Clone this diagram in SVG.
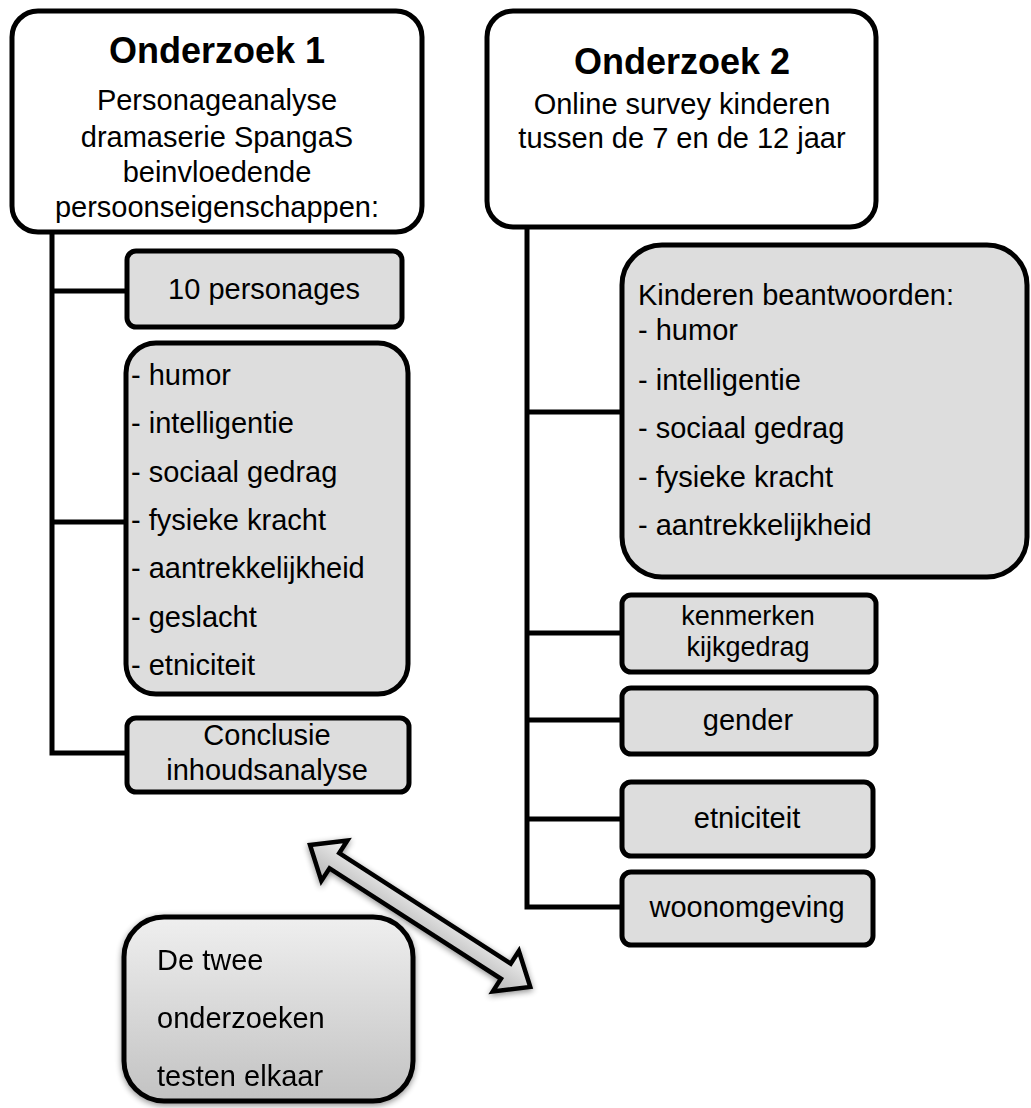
<svg xmlns="http://www.w3.org/2000/svg" width="1031" height="1108" viewBox="0 0 1031 1108">
<style>
  .box { stroke: #000; stroke-width: 5; }
  .white { fill: #ffffff; }
  .gray { fill: #dddddd; }
  .t { font-family: "Liberation Sans", Arial, sans-serif; font-size: 29px; fill: #000; }
  .c { text-anchor: middle; }
  .title { font-family: "Liberation Sans", Arial, sans-serif; font-size: 36px; font-weight: bold; fill: #000; text-anchor: middle; }
  .line { fill: none; stroke: #000; stroke-width: 5; }
</style>
<defs>
  <linearGradient id="gBox" x1="0" y1="0" x2="0" y2="1">
    <stop offset="0" stop-color="#efefef"/>
    <stop offset="1" stop-color="#c2c2c2"/>
  </linearGradient>
  <linearGradient id="gArrow" x1="0" y1="0" x2="0" y2="1">
    <stop offset="0" stop-color="#f4f4f4"/>
    <stop offset="1" stop-color="#b4b4b4"/>
  </linearGradient>
  <filter id="shadow" x="-20%" y="-20%" width="140%" height="140%">
    <feGaussianBlur in="SourceAlpha" stdDeviation="3"/>
    <feOffset dx="0" dy="2" result="b"/>
    <feComponentTransfer><feFuncA type="linear" slope="0.45"/></feComponentTransfer>
    <feMerge><feMergeNode/><feMergeNode in="SourceGraphic"/></feMerge>
  </filter>
</defs>
<rect width="1031" height="1108" fill="#ffffff"/>

<g id="connectors">
  <path class="line" d="M52,232 V753 H127"/>
  <path class="line" d="M52,291 H127"/>
  <path class="line" d="M52,522 H127"/>
  <path class="line" d="M527,227 V907 H621"/>
  <path class="line" d="M527,412 H621"/>
  <path class="line" d="M527,633 H621"/>
  <path class="line" d="M527,720 H621"/>
  <path class="line" d="M527,819 H621"/>
</g>

<g id="onderzoek1">
  <rect class="box white" x="12" y="11" width="410" height="221" rx="26"/>
  <text class="title" x="217" y="63">Onderzoek 1</text>
  <text class="t c" x="217" y="110">Personageanalyse</text>
  <text class="t c" x="217" y="147">dramaserie SpangaS</text>
  <text class="t c" x="217" y="182">beinvloedende</text>
  <text class="t c" x="217" y="217">persoonseigenschappen:</text>
</g>

<g id="onderzoek2">
  <rect class="box white" x="487" y="11" width="389" height="216" rx="26"/>
  <text class="title" x="682" y="74">Onderzoek 2</text>
  <text class="t c" x="682" y="114">Online survey kinderen</text>
  <text class="t c" x="682" y="148">tussen de 7 en de 12 jaar</text>
</g>

<g id="personages">
  <rect class="box gray" x="127" y="251" width="275" height="76" rx="9"/>
  <text class="t c" x="264" y="299">10 personages</text>
</g>

<g id="eigenschappen1">
  <rect class="box gray" x="126" y="343" width="282" height="351" rx="30"/>
  <text class="t" x="131" y="385">- humor</text>
  <text class="t" x="131" y="433">- intelligentie</text>
  <text class="t" x="131" y="482">- sociaal gedrag</text>
  <text class="t" x="131" y="530">- fysieke kracht</text>
  <text class="t" x="131" y="578">- aantrekkelijkheid</text>
  <text class="t" x="131" y="627">- geslacht</text>
  <text class="t" x="131" y="675">- etniciteit</text>
</g>

<g id="conclusie">
  <rect class="box gray" x="127" y="718" width="282" height="74" rx="9"/>
  <text class="t c" x="267" y="745">Conclusie</text>
  <text class="t c" x="267" y="780">inhoudsanalyse</text>
</g>

<g id="kinderen">
  <rect class="box gray" x="622" y="245" width="405" height="332" rx="40"/>
  <text class="t" x="638" y="305">Kinderen beantwoorden:</text>
  <text class="t" x="638" y="340">- humor</text>
  <text class="t" x="638" y="390">- intelligentie</text>
  <text class="t" x="638" y="438">- sociaal gedrag</text>
  <text class="t" x="638" y="487">- fysieke kracht</text>
  <text class="t" x="638" y="535">- aantrekkelijkheid</text>
</g>

<g id="kenmerken">
  <rect class="box gray" x="622" y="595" width="254" height="77" rx="9"/>
  <text class="t c" x="748" y="625" style="font-size:27px">kenmerken</text>
  <text class="t c" x="748" y="656" style="font-size:27px">kijkgedrag</text>
</g>

<g id="gender">
  <rect class="box gray" x="622" y="688" width="254" height="66" rx="9"/>
  <text class="t c" x="748" y="730">gender</text>
</g>

<g id="etniciteit">
  <rect class="box gray" x="622" y="782" width="251" height="74" rx="9"/>
  <text class="t c" x="747" y="828">etniciteit</text>
</g>

<g id="woonomgeving">
  <rect class="box gray" x="622" y="872" width="251" height="73" rx="9"/>
  <text class="t c" x="747" y="917">woonomgeving</text>
</g>

<g id="samen" filter="url(#shadow)">
  <rect class="box" fill="url(#gBox)" x="124" y="917" width="289" height="184" rx="40"/>
  <text class="t" x="157" y="970">De twee</text>
  <text class="t" x="157" y="1028">onderzoeken</text>
  <text class="t" x="157" y="1086">testen elkaar</text>
</g>

<g id="pijl" filter="url(#shadow)">
  <path d="M0,0 L29,-24 L29,-9 L233,-9 L233,-24 L262,0 L233,24 L233,9 L29,9 L29,24 Z" transform="translate(310,845) rotate(32.8)" fill="url(#gArrow)" stroke="#000" stroke-width="4.5" stroke-linejoin="miter"/>
</g>
</svg>
